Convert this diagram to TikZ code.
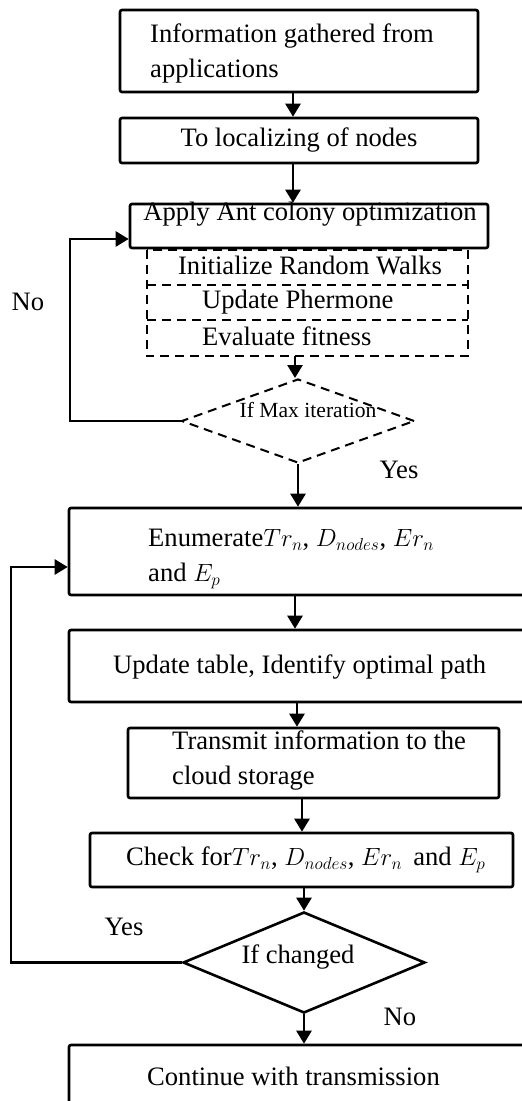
\documentclass[tikz,border=0pt]{standalone}
\usepackage{fontspec}
\setmainfont{Liberation Serif}
\usetikzlibrary{arrows.meta,shapes.geometric}

\begin{document}
\begin{tikzpicture}[x=1pt,y=-1pt,
  every node/.style={font=\fontsize{26.6}{35}\selectfont},
  box/.style={draw, line width=2.6pt, rounded corners=2pt, inner sep=0pt},
  cell/.style={inner sep=0pt},
  dashline/.style={line width=2.4pt, dash pattern=on 9pt off 6pt},
  txt/.style={inner sep=0pt, align=left},
  decision/.style={diamond, draw, inner sep=0pt},
  arr/.style={line width=2.6pt, -{Triangle[length=13pt,width=15pt]}},
  small/.style={font=\fontsize{21.6}{26}\selectfont},
]
\useasboundingbox (0,0) rectangle (522,1101);
\clip (0,0) rectangle (522,1101);
\fill[white] (0,0) rectangle (522,1101);

% columns of the vertical arrows
\coordinate (xa) at (293,0);
\coordinate (xb) at (295,0);
\coordinate (xc) at (297,0);
\coordinate (xd) at (302,0);

% gathering and localisation
\node[box, minimum width=358pt, minimum height=82pt] (b1) at (299,51) {};
\node[txt, anchor=west] (t1) at (150,53) {Information gathered from\\applications};
\node[box, minimum width=358pt, minimum height=45pt] (b2) at (299,140.5) {To localizing of nodes};

% ant colony optimisation block
\node[box, minimum width=358pt, minimum height=44pt] (b3) at (309,226) {};
\node[txt] (t3) at (310,214) {Apply Ant colony optimization};
\node[cell, minimum width=321pt, minimum height=35pt] (d1) at (307.5,267.5) {};
\node[cell, minimum width=321pt, minimum height=35pt] (d2) at (307.5,302.5) {};
\node[cell, minimum width=321pt, minimum height=36pt] (d3) at (307.5,338) {};
\draw[dashline] (d1.north west) rectangle (d3.south east);
\draw[dashline] (d1.south west) -- (d1.south east);
\draw[dashline] (d2.south west) -- (d2.south east);
\node[txt] (td1) at (310,265) {Initialize Random Walks};
\node[txt, anchor=west] (td2) at (202,302) {Update Phermone};
\node[txt, anchor=west] (td3) at (202,336) {Evaluate fitness};

\node[decision, line width=2pt, dash pattern=on 9pt off 6pt,
      minimum width=233pt, minimum height=84pt] (q1) at (298,421) {};
\node[txt, small] (tq1) at (308,410) {If Max iteration};

% routing block
\node[box, minimum width=476pt, minimum height=87pt] (b4) at (307,551.5) {};
\node[txt, anchor=west] (t4) at (148,559) {Enumerate$Tr_n$, $D_{nodes}$, $Er_n$\\and $E_p$};
\node[box, minimum width=476pt, minimum height=72pt] (b5) at (307,666) {};
\node[txt, anchor=west] (t5) at (113,667) {Update table, Identify optimal path};
\node[box, minimum width=371pt, minimum height=70pt] (b6) at (313.5,763) {};
\node[txt, anchor=west] (t6) at (172,760) {Transmit information to the\\cloud storage};
\node[box, minimum width=423pt, minimum height=54pt] (b7) at (301.5,860) {};
\node[txt, anchor=west] (t7) at (126,860) {Check for$Tr_n$, $D_{nodes}$, $Er_n$\, and $E_p$};

\node[decision, line width=2.6pt, minimum width=242pt, minimum height=101pt] (q2) at (304,962.5) {};
\node[txt] (tq2) at (298,957) {If changed};

\node[box, minimum width=476pt, minimum height=62pt] (b8) at (307,1076) {};
\node[txt, anchor=west] (t8) at (147,1076) {Continue with transmission};

% branch labels
\node (no1) at (28,302) {No};
\node (yes1) at (399,470) {Yes};
\node (yes2) at (124,927) {Yes};
\node (no2) at (400,1017) {No};

% main flow
\draw[arr] (b1.south -| xa) -- (b2.north -| xa);
\draw[arr] (b2.south -| xa) -- (b3.north -| xa);
\draw[arr] (d3.south -| xb) -- (q1.north -| xb);
\draw[arr] (q1.south) -- (q1.south |- b4.north);
\draw[arr] (b4.south -| xb) -- (b5.north -| xb);
\draw[arr] (b5.south -| xc) -- (b6.north -| xc);
\draw[arr] (b6.south -| xd) -- (b7.north -| xd);
\draw[arr] (b7.south -| q2.north) -- (q2.north);
\draw[arr] (q2.south) -- (q2.south |- b8.north);

% feedback loops
\coordinate (k1) at (70,239);
\draw[arr] (q1.west) -| (k1) -- (k1 -| b3.west);
\coordinate (k2) at (11,567);
\draw[arr] (q2.west) -| (k2) -- (k2 -| b4.west);
\end{tikzpicture}
\end{document}
